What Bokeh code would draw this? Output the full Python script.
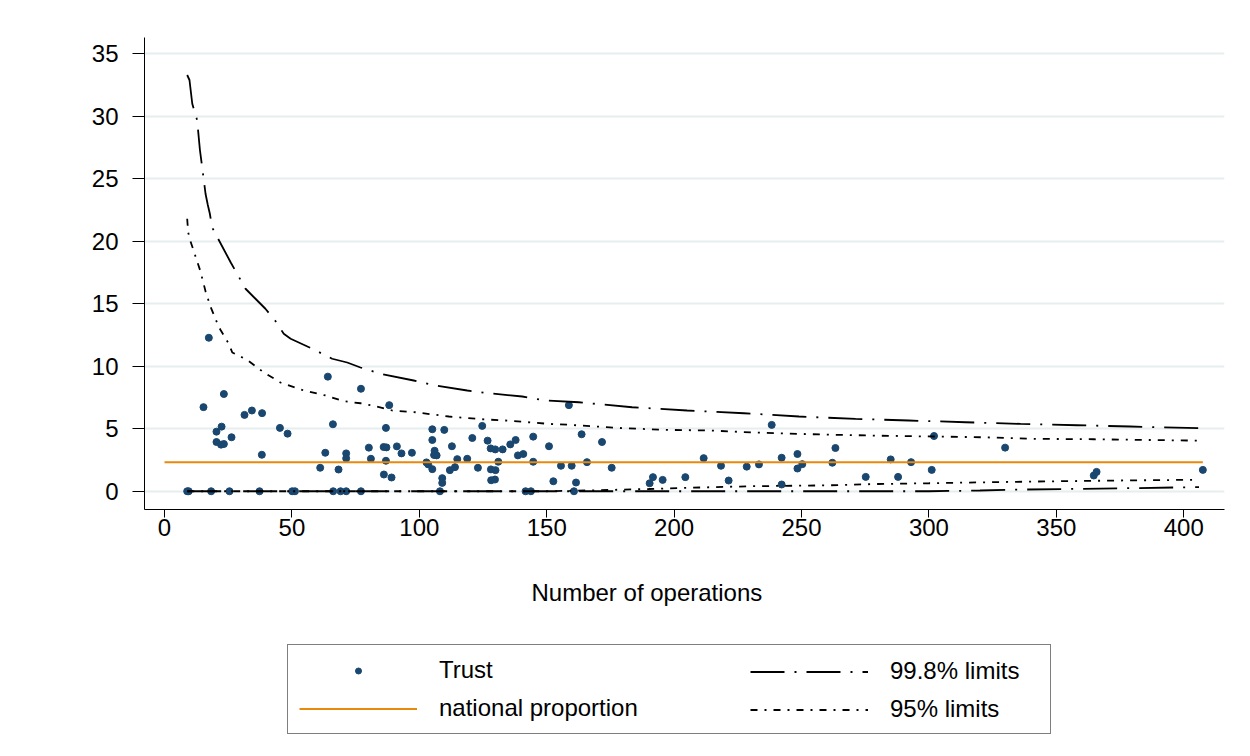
from bokeh.plotting import figure
from bokeh.layouts import column
from bokeh.models import Range1d, FixedTicker, Legend, LegendItem, Title
from bokeh.embed import file_html
from bokeh.resources import INLINE

# ---------------- data ----------------
trust_n = [8.9, 9.5, 15.3, 17.4, 18.3, 20.4, 20.4, 22.2, 22.4, 23.3, 23.3, 25.5, 26.3, 31.4, 34.3,
           37.3, 38.2, 38.3, 45.3, 48.3, 50.1, 51.2, 61.1, 63.1, 64.1, 66.1, 66.2, 68.3, 69.1, 71.3,
           71.3, 71.3, 77.1, 77.1, 80.2, 81.0, 86.0, 86.1, 86.9, 86.9, 87.1, 88.2, 89.1, 91.2, 93.0,
           97.1, 102.8, 103.5, 105.1, 105.1, 105.1, 105.8, 106.0, 106.8, 108.1, 109.0, 109.0, 109.8,
           112.0, 112.8, 114.0, 114.9, 118.8, 120.8, 123.0, 124.7, 126.8, 128.0, 128.1, 128.2, 129.7,
           129.8, 129.9, 131.0, 132.7, 135.7, 137.8, 138.7, 140.8, 141.7, 143.8, 144.7, 144.7, 150.9,
           152.6, 155.6, 158.7, 159.8, 160.7, 161.5, 163.7, 165.8, 171.7, 175.5, 190.4, 191.7, 195.5,
           204.4, 211.6, 218.4, 221.4, 228.5, 233.3, 238.3, 242.2, 242.2, 248.4, 248.4, 250.3, 262.1,
           263.3, 275.2, 285.0, 287.9, 293.0, 301.1, 302.0, 329.9, 364.7, 365.8, 407.5]
trust_pct = [0, 0, 6.73, 12.28, 0, 4.77, 3.94, 3.73, 5.17, 3.78, 7.78, 0, 4.32, 6.11, 6.46,
             0, 2.92, 6.25, 5.07, 4.61, 0, 0, 1.88, 3.08, 9.17, 5.36, 0, 1.74, 0, 3.03,
             2.63, 0, 8.2, 0, 3.49, 2.6, 3.54, 1.34, 5.07, 2.44, 3.51, 6.89, 1.1, 3.59, 3.03,
             3.08, 2.31, 2.15, 4.96, 4.1, 1.77, 2.9, 3.24, 2.87, 0, 1.05, 0.67, 4.91,
             1.69, 3.6, 1.93, 2.57, 2.6, 4.26, 1.88, 5.23, 4.05, 3.43, 1.75, 0.88, 0.94,
             3.35, 1.69, 2.36, 3.35, 3.75, 4.1, 2.87, 2.98, 0, 0, 4.37, 2.36, 3.6,
             0.8, 2.04, 6.89, 2.04, 0, 0.7, 4.56, 2.33, 3.94, 1.88, 0.64, 1.13, 0.91,
             1.13, 2.65, 2.04, 0.86, 1.97, 2.15, 5.31, 2.68, 0.54, 2.98, 1.82, 2.17, 2.28,
             3.46, 1.15, 2.55, 1.15, 2.33, 1.71, 4.42, 3.49, 1.26, 1.55, 1.71]

national_pct = 2.33

up998_n = [8.9, 9.8, 10.9, 12.8, 13.9, 14.8, 16.1, 17.0, 17.8, 18.7, 21.3, 26.0, 31.8, 35.7, 39.6,
           43.6, 46.8, 49.5, 58.0, 65.8, 71.7, 76.9, 84.8, 97.8, 106.4, 118.8, 127.2, 140.4, 149.5,
           162.6, 183.5, 205.1, 227.4, 249.0, 271.2, 292.1, 314.4, 336.0, 358.2, 379.0, 401.4, 406.0]
up998_v = [33.3, 32.9, 31.0, 29.7, 27.3, 25.9, 23.8, 22.9, 22.2, 21.1, 20.1, 18.3, 16.2, 15.4, 14.6,
           13.6, 12.6, 12.2, 11.4, 10.6, 10.3, 9.9, 9.4, 8.86, 8.46, 8.06, 7.84, 7.58, 7.26,
           7.12, 6.72, 6.46, 6.24, 5.98, 5.79, 5.66, 5.52, 5.39, 5.28, 5.18, 5.07, 5.05]

up95_n = [8.9, 9.3, 10.2, 14.1, 16.1, 18.0, 21.0, 22.0, 25.2, 26.6, 32.5, 39.0, 45.5, 54.7, 63.2,
          70.4, 76.9, 81.5, 89.4, 98.5, 111.6, 124.7, 133.8, 150.8, 159.3, 177.7, 196.0, 214.3,
          230.6, 258.0, 284.3, 302.6, 320.3, 342.5, 364.7, 383.0, 401.4, 406.0]
up95_v = [21.8, 20.7, 20.0, 17.6, 16.0, 14.8, 13.3, 12.9, 11.8, 11.1, 10.5, 9.5, 8.7, 8.06, 7.66,
          7.2, 7.04, 6.86, 6.46, 6.32, 5.98, 5.76, 5.66, 5.39, 5.31, 5.07, 4.91, 4.86,
          4.70, 4.54, 4.43, 4.38, 4.32, 4.19, 4.16, 4.11, 4.06, 4.05]

lo95_n = [8.9, 150.0, 170.0, 190.0, 210.0, 230.0, 260.0, 280.0, 300.0, 320.0, 350.0, 375.0, 406.0]
lo95_v = [0, 0, 0.08, 0.18, 0.3, 0.4, 0.47, 0.58, 0.64, 0.71, 0.8, 0.86, 0.92]

lo998_n = [8.9, 300.0, 320.0, 335.0, 358.0, 380.0, 406.0]
lo998_v = [0, 0, 0.06, 0.13, 0.19, 0.25, 0.33]

x_ticks = [0, 50, 100, 150, 200, 250, 300, 350, 400]
y_ticks = [0, 5, 10, 15, 20, 25, 30, 35]

x_title = "Number of operations"
legend_labels = ["Trust", "national proportion", "99.8% limits", "95% limits"]

# ---------------- styling ----------------
FONT = "Liberation Sans"
NAVY = "#1a476f"
ORANGE = "#e8890c"
GRID = "#e6eef0"
DASH998 = "34 10 2 10"
DASH95 = "7 7 2 7"
W = 1242


def draw_series(fig):
    rs = fig.scatter(trust_n, trust_pct, size=7, color=NAVY, marker="circle")
    rn = fig.line([0, max(trust_n)], [national_pct, national_pct], line_color=ORANGE, line_width=2)
    ru998 = fig.line(up998_n, up998_v, line_color="black", line_width=1.8, line_dash=DASH998)
    rl998 = fig.line(lo998_n, lo998_v, line_color="black", line_width=1.8, line_dash=DASH998)
    ru95 = fig.line(up95_n, up95_v, line_color="black", line_width=1.8, line_dash=DASH95)
    rl95 = fig.line(lo95_n, lo95_v, line_color="black", line_width=1.8, line_dash=DASH95)
    return rs, rn, ru998, rl998, ru95, rl95


p = figure(width=W, height=644, output_backend="svg", toolbar_location=None,
           x_range=Range1d(-7.85, 416.0), y_range=Range1d(-1.46, 36.3),
           min_border_left=144, min_border_right=18, min_border_top=37, min_border_bottom=135)
p.outline_line_color = None
p.background_fill_color = "white"
p.border_fill_color = "white"

p.xgrid.visible = False
p.ygrid.grid_line_color = GRID
p.ygrid.grid_line_width = 2
p.ygrid.ticker = FixedTicker(ticks=y_ticks)

p.xaxis.ticker = FixedTicker(ticks=x_ticks)
p.yaxis.ticker = FixedTicker(ticks=y_ticks)
for ax in (p.xaxis, p.yaxis):
    ax.axis_line_color = "black"
    ax.axis_line_width = 1
    ax.major_tick_line_color = "black"
    ax.major_tick_in = 0
    ax.minor_tick_line_color = None
    ax.major_label_text_font = FONT
    ax.major_label_text_font_size = "24px"
    ax.major_label_text_color = "black"
p.xaxis.major_tick_out = 8
p.yaxis.major_tick_out = 12
p.xaxis.major_label_standoff = 1
p.yaxis.major_label_standoff = 14

# x-axis title (placed a little left of the frame centre, as in the reference)
p.add_layout(Title(text=x_title, align="left", offset=387, standoff=76,
                   text_font=FONT, text_font_size="24px", text_font_style="normal",
                   text_color="black"), "below")

draw_series(p)

# ---------------- legend strip below the chart ----------------
# (the same series are drawn here hidden; they only supply the legend keys)
q = figure(width=W, height=104, output_backend="svg", toolbar_location=None,
           x_range=Range1d(-7.85, 416.0), y_range=Range1d(-1.46, 36.3),
           x_axis_location=None, y_axis_location=None, min_border=0)
q.outline_line_color = None
q.xgrid.visible = False
q.ygrid.visible = False
q.background_fill_color = "white"
q.border_fill_color = "white"

k_trust, k_nat, k_998, _, k_95, _ = draw_series(q)
for r in q.renderers:
    r.visible = False

common = dict(orientation="vertical", glyph_width=118, glyph_height=15, label_height=26,
              label_standoff=22, padding=11, spacing=10, margin=0,
              inactive_fill_alpha=0.0,
              label_text_font=FONT, label_text_font_size="24px", label_text_color="black")

leg_a = Legend(items=[LegendItem(label=legend_labels[0], renderers=[k_trust]),
                      LegendItem(label=legend_labels[1], renderers=[k_nat])],
               location=(143, 14), label_width=600,
               border_line_color="black", border_line_width=1.3,
               background_fill_color="white", background_fill_alpha=1.0, **common)
leg_b = Legend(items=[LegendItem(label=legend_labels[2], renderers=[k_998]),
                      LegendItem(label=legend_labels[3], renderers=[k_95])],
               location=(595, 14),
               border_line_alpha=0, background_fill_alpha=0, **common)
q.add_layout(leg_a)
q.add_layout(leg_b)

layout = column(p, q, spacing=0)
open("out.html", "w").write(file_html(layout, INLINE))
